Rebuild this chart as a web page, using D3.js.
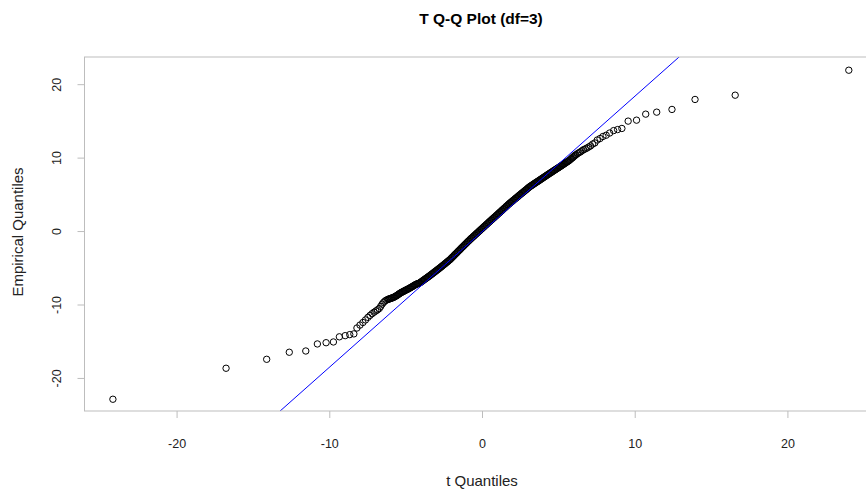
<!DOCTYPE html>
<html><head><meta charset="utf-8">
<script src="https://cdn.jsdelivr.net/npm/d3@7"></script>
<style>body{margin:0;background:#fff}svg{display:block}text{font-family:"Liberation Sans",Arial,sans-serif}</style>
</head><body><svg id="c" width="866" height="491"></svg>
<script>
const title = "T Q-Q Plot (df=3)";
const xLabel = "t Quantiles";
const yLabel = "Empirical Quantiles";
const xTicks = [-20, -10, 0, 10, 20];
const yTicks = [-20, -10, 0, 10, 20];
const refIntercept = -0.11, refSlope = 1.845;

const tQuantiles = [
 -24.17,-16.76,-14.10,-12.62,-11.54,-10.78,-10.21,-9.73,-9.34,-8.96,-8.66,-8.39,-8.19,-7.99,-7.80,-7.63,-7.47,-7.33,-7.20,-7.07,-6.95,-6.84,-6.73,-6.63,-6.54,-6.45,-6.36,-6.28,
 -6.18,-6.08,-5.98,-5.88,-5.78,-5.68,-5.58,-5.48,-5.38,-5.28,-5.18,-5.08,-4.98,-4.88,-4.78,-4.68,-4.58,-4.48,-4.38,-4.28,-4.18,-4.08,
 -3.98,-3.88,-3.78,-3.68,-3.58,-3.48,-3.38,-3.28,-3.18,-3.08,-2.98,-2.88,-2.78,-2.68,-2.58,-2.48,-2.38,-2.28,-2.18,-2.08,
 -1.98,-1.88,-1.78,-1.68,-1.58,-1.48,-1.38,-1.28,-1.18,-1.08,-0.98,-0.88,-0.78,-0.68,-0.58,-0.48,-0.38,-0.28,-0.18,-0.08,
 0.02,0.12,0.22,0.32,0.42,0.52,0.62,0.72,0.82,0.92,1.02,1.12,1.22,1.32,1.42,1.52,1.62,1.72,1.82,1.92,
 2.02,2.12,2.22,2.32,2.42,2.52,2.62,2.72,2.82,2.92,3.02,3.12,3.22,3.32,3.42,3.52,3.62,3.72,3.82,3.92,
 4.02,4.12,4.22,4.32,4.42,4.52,4.62,4.72,4.82,4.92,5.02,5.12,5.22,5.32,5.42,5.52,5.62,5.72,5.86,5.96,
 6.06,6.16,6.26,6.36,6.46,6.56,6.65,6.76,6.87,6.99,7.11,7.25,7.39,7.55,7.73,7.92,8.13,8.36,8.62,8.88,
 9.16,9.57,10.12,10.72,11.44,12.44,13.95,16.58,24.02
];
const empirical = [
 -22.90,-18.68,-17.46,-16.50,-16.33,-15.37,-15.20,-15.10,-14.40,-14.24,-14.10,-14.00,-13.20,-12.80,-12.45,-12.10,-11.75,-11.48,-11.25,-11.05,-10.88,-10.72,-10.55,-10.25,-9.95,-9.72,-9.54,-9.42,
 -9.32,-9.25,-9.17,-9.10,-9.02,-8.90,-8.78,-8.63,-8.48,-8.36,-8.25,-8.14,-8.03,-7.93,-7.82,-7.70,-7.58,-7.45,-7.32,-7.22,-7.14,-7.06,
 -6.91,-6.76,-6.61,-6.46,-6.31,-6.16,-6.01,-5.85,-5.69,-5.53,-5.37,-5.21,-5.05,-4.88,-4.71,-4.54,-4.37,-4.20,-4.03,-3.85,
 -3.64,-3.43,-3.22,-3.01,-2.80,-2.59,-2.38,-2.17,-1.97,-1.76,-1.55,-1.35,-1.14,-0.95,-0.76,-0.57,-0.38,-0.19,0.00,0.19,
 0.38,0.57,0.76,0.95,1.14,1.33,1.52,1.71,1.89,2.08,2.27,2.46,2.65,2.84,3.03,3.22,3.41,3.60,3.79,3.96,
 4.13,4.31,4.48,4.65,4.83,5.00,5.17,5.34,5.51,5.68,5.86,6.03,6.17,6.31,6.45,6.59,6.72,6.86,7.00,7.14,
 7.28,7.42,7.56,7.70,7.84,7.97,8.11,8.25,8.38,8.52,8.65,8.79,8.93,9.07,9.21,9.35,9.49,9.63,9.88,10.05,
 10.25,10.40,10.55,10.68,10.80,10.95,11.08,11.18,11.30,11.45,11.60,11.85,12.00,12.40,12.60,12.88,13.05,13.35,13.68,13.82,
 13.97,14.97,15.10,15.92,16.19,16.56,17.92,18.50,21.90
];
// further readings taken along the solid central band
const tQuantilesBand = [
 -6.13,-6.03,-5.93,-5.83,-5.73,-5.63,-5.53,-5.43,-5.33,-5.23,-5.13,-5.03,-4.93,-4.83,-4.73,-4.63,-4.53,-4.43,-4.33,-4.23,-4.13,-4.03,
 -3.93,-3.83,-3.73,-3.63,-3.53,-3.43,-3.33,-3.23,-3.13,-3.03,-2.93,-2.83,-2.73,-2.63,-2.53,-2.43,-2.33,-2.23,-2.13,-2.03,
 -1.93,-1.83,-1.73,-1.63,-1.53,-1.43,-1.33,-1.23,-1.13,-1.03,-0.93,-0.83,-0.73,-0.63,-0.53,-0.43,-0.33,-0.23,-0.13,-0.03,
 0.07,0.17,0.27,0.37,0.47,0.57,0.67,0.77,0.87,0.97,1.07,1.17,1.27,1.37,1.47,1.57,1.67,1.77,1.87,1.97,
 2.07,2.17,2.27,2.37,2.47,2.57,2.67,2.77,2.87,2.97,3.07,3.17,3.27,3.37,3.47,3.57,3.67,3.77,3.87,3.97,
 4.07,4.17,4.27,4.37,4.47,4.57,4.67,4.77,4.87,4.97,5.07,5.17,5.27,5.37,5.47,5.57,5.67,5.79,5.91,6.01,6.11
];
const empiricalBand = [
 -9.29,-9.21,-9.14,-9.06,-8.96,-8.84,-8.71,-8.56,-8.42,-8.31,-8.20,-8.09,-7.98,-7.88,-7.76,-7.64,-7.52,-7.39,-7.27,-7.18,-7.10,-6.99,
 -6.84,-6.69,-6.54,-6.39,-6.24,-6.09,-5.93,-5.77,-5.61,-5.45,-5.29,-5.13,-4.97,-4.80,-4.63,-4.46,-4.29,-4.12,-3.94,-3.75,
 -3.54,-3.33,-3.12,-2.91,-2.70,-2.49,-2.28,-2.07,-1.87,-1.66,-1.45,-1.25,-1.05,-0.86,-0.67,-0.48,-0.29,-0.10,0.10,0.29,
 0.48,0.67,0.86,1.05,1.24,1.43,1.62,1.80,1.99,2.18,2.37,2.56,2.75,2.94,3.13,3.32,3.51,3.70,3.88,4.05,
 4.22,4.40,4.57,4.74,4.92,5.09,5.26,5.43,5.60,5.77,5.95,6.10,6.24,6.38,6.52,6.66,6.79,6.93,7.07,7.21,
 7.35,7.49,7.63,7.77,7.91,8.04,8.18,8.32,8.45,8.59,8.72,8.86,9.00,9.14,9.28,9.42,9.56,9.75,9.96,10.15,10.33
];

const svg = d3.select("#c");
const x = d3.scaleLinear().domain([-26.03, 26.03]).range([84.5, 879.5]);
const y = d3.scaleLinear().domain([-24.5, 23.7]).range([411, 57]);
const [x0, x1] = x.range(), [y0, y1] = y.range();

svg.append("clipPath").attr("id", "plotclip").append("rect")
  .attr("x", x0).attr("y", y1).attr("width", x1 - x0).attr("height", y0 - y1);

const pts = d3.zip(tQuantiles, empirical).concat(d3.zip(tQuantilesBand, empiricalBand));
svg.append("g").selectAll("circle").data(pts).join("circle")
  .attr("cx", d => x(d[0])).attr("cy", d => y(d[1])).attr("r", 3.2)
  .attr("fill", "none").attr("stroke", "#000").attr("stroke-width", 1);

const dom = x.domain();
svg.append("line").attr("clip-path", "url(#plotclip)")
  .attr("x1", x(dom[0])).attr("y1", y(refIntercept + refSlope * dom[0]))
  .attr("x2", x(dom[1])).attr("y2", y(refIntercept + refSlope * dom[1]))
  .attr("stroke", "#0000ff").attr("stroke-width", 1);

svg.append("rect").attr("x", x0).attr("y", y1).attr("width", x1 - x0).attr("height", y0 - y1)
  .attr("fill", "none").attr("stroke", "#bdbdbd").attr("stroke-width", 1);

const gx = svg.append("g").attr("transform", `translate(0,${y0})`)
  .call(d3.axisBottom(x).tickValues(xTicks).tickSize(7).tickFormat(d => String(d)));
gx.select(".domain").remove();
gx.selectAll(".tick line").attr("stroke", "#bdbdbd");
gx.selectAll(".tick text").attr("y", 37).attr("dy", null)
  .attr("font-size", 12.5).attr("fill", "#222").attr("font-family", null);

const gy = svg.append("g").attr("transform", `translate(${x0},0)`)
  .call(d3.axisLeft(y).tickValues(yTicks).tickSize(7).tickFormat(d => String(d)));
gy.select(".domain").remove();
gy.selectAll(".tick line").attr("stroke", "#bdbdbd");
gy.selectAll(".tick text").attr("x", null).attr("dy", null).attr("y", null)
  .attr("transform", "translate(-24,0) rotate(-90)").attr("text-anchor", "middle")
  .attr("font-size", 12.5).attr("fill", "#222").attr("font-family", null);

svg.append("text").attr("x", 482).attr("y", 486).attr("text-anchor", "middle")
  .attr("font-size", 15).attr("fill", "#222").text(xLabel);
svg.append("text").attr("transform", "translate(23,232) rotate(-90)").attr("text-anchor", "middle")
  .attr("font-size", 15).attr("fill", "#222").text(yLabel);
svg.append("text").attr("x", 481).attr("y", 24).attr("text-anchor", "middle")
  .attr("font-size", 15.5).attr("font-weight", "bold").attr("fill", "#000").text(title);
</script></body></html>
